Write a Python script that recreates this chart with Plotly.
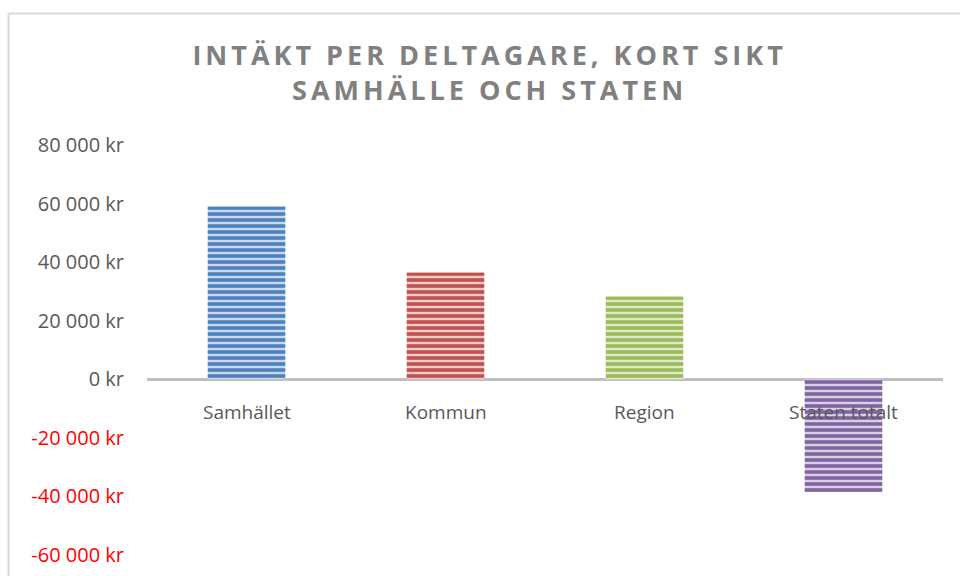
import plotly.graph_objects as go

categories = ["Samhället", "Kommun", "Region", "Staten totalt"]
values = [59000, 36500, 28300, -38500]
dark_colors = ["#4F81BD", "#C0504D", "#9BBB59", "#8064A2"]
light_colors = ["#C9D8EC", "#EDCDCC", "#DFEACB", "#D9D0E5"]
tick_values = [80000, 60000, 40000, 20000, 0, -20000, -40000, -60000]
title_lines = ["INTÄKT PER DELTAGARE, KORT SIKT", "SAMHÄLLE OCH STATEN"]


def fmt(v):
    s = f"{abs(v):,}".replace(",", " ") + " kr"
    if v < 0:
        return f"<span style='color:#FF0000'>-{s}</span>"
    return s


tick_text = [fmt(v) for v in tick_values]

fig = go.Figure()
for cat, val, dc, lc in zip(categories, values, dark_colors, light_colors):
    fig.add_trace(go.Bar(
        x=[cat],
        y=[val],
        width=0.39,
        name=cat,
        marker=dict(
            color=lc,
            line=dict(width=0),
            pattern=dict(shape="-", size=6, solidity=0.6,
                         fgcolor=dc, bgcolor=lc, fgopacity=1, fillmode="overlay"),
        ),
        showlegend=False,
    ))

for c in categories:
    fig.add_annotation(x=c, y=0, xref="x", yref="y", text=c, showarrow=False,
                       yanchor="top", yshift=-18,
                       font=dict(family="Open Sans", size=19, color="#595959"))

title_html = "<br>".join(
    f"<span style='letter-spacing:4px'>{t}</span>" for t in title_lines)

fig.update_layout(
    width=960, height=576,
    barmode="overlay",
    margin=dict(l=147, r=17, t=145, b=21),
    paper_bgcolor="white", plot_bgcolor="white",
    title=dict(text=title_html, x=0.51, xanchor="center", y=1 - 65 / 576, yanchor="middle",
               font=dict(family="Open Sans", size=27, color="#808080", weight="bold")),
    font=dict(family="Open Sans", color="#595959"),
    xaxis=dict(showticklabels=False, showgrid=False, zeroline=False, showline=False,
               range=[-0.5, 3.5], categoryorder="array", categoryarray=categories),
    yaxis=dict(range=[-60000, 80000], tickvals=tick_values, ticktext=tick_text,
               showgrid=False, zeroline=True, zerolinecolor="#BFBFBF", zerolinewidth=3,
               showline=False, ticklabelstandoff=22, automargin=False,
               tickfont=dict(family="Open Sans", size=20, color="#595959")),
    shapes=[
        dict(type="line", xref="paper", yref="paper",
             x0=(8.5 - 147) / 796, x1=(960 - 147) / 796,
             y0=(555 - 13.5) / 410, y1=(555 - 13.5) / 410,
             line=dict(color="#D9D9D9", width=2)),
        dict(type="line", xref="paper", yref="paper",
             x0=(8.5 - 147) / 796, x1=(8.5 - 147) / 796,
             y0=(555 - 13.5) / 410, y1=(555 - 576) / 410,
             line=dict(color="#D9D9D9", width=2)),
    ],
)

fig.write_html("out.html", config={"displayModeBar": False},
               post_script="document.body.style.margin='0';")
